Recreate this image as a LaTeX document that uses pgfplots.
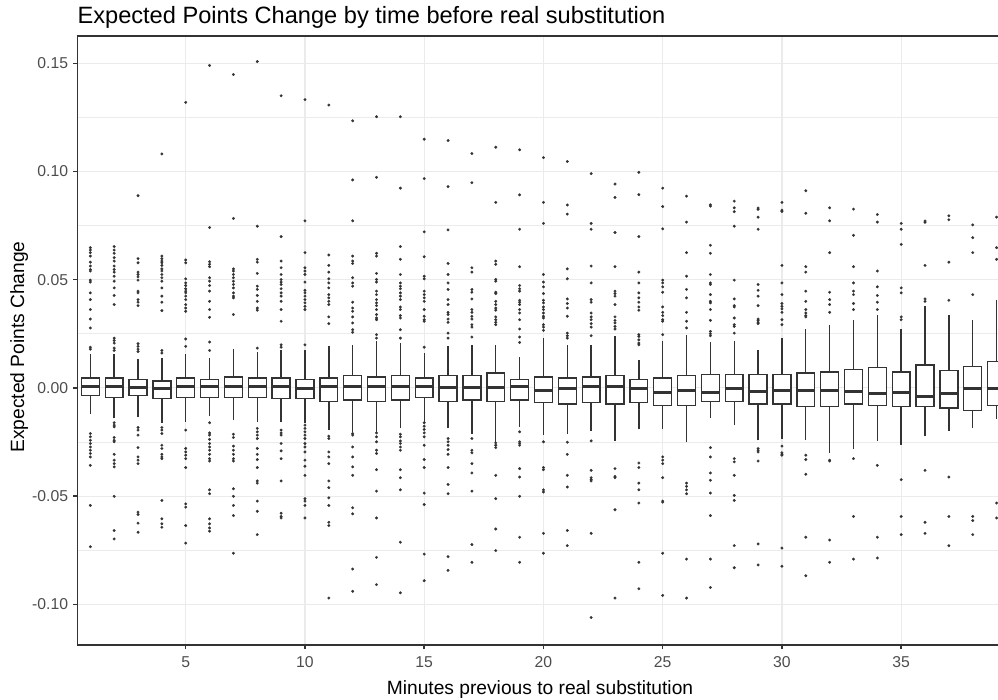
\documentclass[border=0pt]{standalone}
\usepackage{pgfplots}
\usepackage{pgfplotstable}
\pgfplotsset{compat=1.18}
\usepackage{fontspec}
\setmainfont{Liberation Sans}
\definecolor{g20}{HTML}{333333}
\definecolor{g30}{HTML}{4D4D4D}
\definecolor{g92}{HTML}{EBEBEB}
\pgfplotstableread{
x y
1 0.0648
1 0.0637
1 0.0625
1 0.0609
1 0.0581
1 0.0563
1 0.0547
1 0.0540
1 0.0498
1 0.0489
1 0.0439
1 0.0408
1 0.0362
1 0.0318
1 0.0277
1 0.0188
1 0.0179
1 -0.0211
1 -0.0226
1 -0.0242
1 -0.0257
1 -0.0273
1 -0.0288
1 -0.0303
1 -0.0319
1 -0.0358
1 -0.0543
1 -0.0734
2 0.0653
2 0.0637
2 0.0622
2 0.0602
2 0.0586
2 0.0563
2 0.0547
2 0.0535
2 0.0516
2 0.0493
2 0.0462
2 0.0427
2 0.0385
2 0.0230
2 0.0219
2 0.0207
2 0.0184
2 0.0173
2 -0.0161
2 -0.0172
2 -0.0180
2 -0.0229
2 -0.0242
2 -0.0249
2 -0.0307
2 -0.0334
2 -0.0350
2 -0.0365
2 -0.0501
2 -0.0659
2 -0.0698
3 0.0888
3 0.0597
3 0.0578
3 0.0535
3 0.0524
3 0.0513
3 0.0498
3 0.0447
3 0.0439
3 0.0408
3 0.0396
3 0.0380
3 0.0204
3 0.0192
3 0.0179
3 0.0168
3 -0.0183
3 -0.0195
3 -0.0218
3 -0.0276
3 -0.0319
3 -0.0334
3 -0.0350
3 -0.0574
3 -0.0585
3 -0.0625
3 -0.0667
4 0.1081
4 0.0609
4 0.0597
4 0.0586
4 0.0578
4 0.0566
4 0.0550
4 0.0540
4 0.0524
4 0.0509
4 0.0493
4 0.0462
4 0.0424
4 0.0396
4 0.0357
4 0.0173
4 0.0161
4 -0.0183
4 -0.0195
4 -0.0211
4 -0.0265
4 -0.0280
4 -0.0307
4 -0.0319
4 -0.0327
4 -0.0520
4 -0.0605
4 -0.0628
4 -0.0644
5 0.1319
5 0.0591
5 0.0578
5 0.0504
5 0.0485
5 0.0473
5 0.0458
5 0.0447
5 0.0439
5 0.0424
5 0.0408
5 0.0385
5 0.0369
5 0.0354
5 0.0226
5 0.0192
5 -0.0195
5 -0.0280
5 -0.0296
5 -0.0311
5 -0.0327
5 -0.0368
5 -0.0536
5 -0.0551
5 -0.0636
5 -0.0717
6 0.1490
6 0.0741
6 0.0583
6 0.0571
6 0.0560
6 0.0509
6 0.0493
6 0.0473
6 0.0447
6 0.0400
6 0.0362
6 0.0326
6 0.0212
6 0.0173
6 -0.0161
6 -0.0208
6 -0.0218
6 -0.0238
6 -0.0257
6 -0.0273
6 -0.0288
6 -0.0307
6 -0.0327
6 -0.0338
6 -0.0471
6 -0.0489
6 -0.0605
6 -0.0628
6 -0.0647
6 -0.0662
7 0.1448
7 0.0783
7 0.0550
7 0.0540
7 0.0524
7 0.0509
7 0.0493
7 0.0478
7 0.0462
7 0.0439
7 0.0424
7 0.0416
7 0.0339
7 -0.0214
7 -0.0229
7 -0.0269
7 -0.0288
7 -0.0307
7 -0.0327
7 -0.0338
7 -0.0466
7 -0.0501
7 -0.0543
7 -0.0590
7 -0.0764
8 0.1508
8 0.0747
8 0.0594
8 0.0581
8 0.0529
8 0.0470
8 0.0455
8 0.0427
8 0.0400
8 0.0369
8 0.0359
8 0.0184
8 -0.0187
8 -0.0203
8 -0.0218
8 -0.0234
8 -0.0280
8 -0.0307
8 -0.0331
8 -0.0368
8 -0.0430
8 -0.0440
8 -0.0523
8 -0.0570
8 -0.0678
9 0.1350
9 0.0699
9 0.0586
9 0.0555
9 0.0524
9 0.0501
9 0.0489
9 0.0478
9 0.0458
9 0.0439
9 0.0424
9 0.0400
9 0.0362
9 0.0308
9 0.0199
9 0.0188
9 -0.0195
9 -0.0208
9 -0.0218
9 -0.0257
9 -0.0291
9 -0.0327
9 -0.0430
9 -0.0579
9 -0.0594
9 -0.0601
10 0.1332
10 0.0772
10 0.0625
10 0.0555
10 0.0540
10 0.0524
10 0.0489
10 0.0451
10 0.0439
10 0.0424
10 0.0408
10 0.0393
10 0.0377
10 0.0362
10 0.0199
10 -0.0172
10 -0.0187
10 -0.0203
10 -0.0218
10 -0.0234
10 -0.0257
10 -0.0273
10 -0.0296
10 -0.0334
10 -0.0362
10 -0.0404
10 -0.0512
10 -0.0523
10 -0.0543
10 -0.0601
11 0.1307
11 0.0614
11 0.0566
11 0.0535
11 0.0504
11 0.0485
11 0.0462
11 0.0431
11 0.0416
11 0.0400
11 0.0385
11 0.0328
11 0.0297
11 -0.0223
11 -0.0234
11 -0.0296
11 -0.0319
11 -0.0350
11 -0.0430
11 -0.0461
11 -0.0508
11 -0.0543
11 -0.0621
11 -0.0636
11 -0.0971
12 0.1234
12 0.0961
12 0.0772
12 0.0609
12 0.0586
12 0.0575
12 0.0509
12 0.0485
12 0.0470
12 0.0396
12 0.0369
12 0.0354
12 0.0328
12 0.0300
12 0.0269
12 0.0257
12 -0.0211
12 -0.0218
12 -0.0273
12 -0.0319
12 -0.0365
12 -0.0404
12 -0.0554
12 -0.0582
12 -0.0837
12 -0.0940
13 0.1253
13 0.0973
13 0.0622
13 0.0609
13 0.0529
13 0.0501
13 0.0489
13 0.0447
13 0.0431
13 0.0408
13 0.0393
13 0.0380
13 0.0362
13 0.0339
13 0.0323
13 0.0315
13 0.0246
13 0.0230
13 -0.0208
13 -0.0226
13 -0.0249
13 -0.0288
13 -0.0303
13 -0.0378
13 -0.0477
13 -0.0601
13 -0.0783
13 -0.0909
14 0.1253
14 0.0923
14 0.0653
14 0.0594
14 0.0524
14 0.0485
14 0.0470
14 0.0458
14 0.0439
14 0.0424
14 0.0408
14 0.0374
14 0.0362
14 0.0334
14 0.0323
14 0.0269
14 0.0230
14 -0.0214
14 -0.0226
14 -0.0245
14 -0.0257
14 -0.0273
14 -0.0288
14 -0.0378
14 -0.0415
14 -0.0471
14 -0.0713
14 -0.0947
15 0.1149
15 0.0967
15 0.0721
15 0.0606
15 0.0516
15 0.0504
15 0.0447
15 0.0431
15 0.0416
15 0.0400
15 0.0362
15 0.0331
15 0.0315
15 0.0308
15 0.0188
15 -0.0161
15 -0.0177
15 -0.0192
15 -0.0208
15 -0.0226
15 -0.0265
15 -0.0331
15 -0.0368
15 -0.0486
15 -0.0539
15 -0.0768
15 -0.0891
16 0.1143
16 0.0930
16 0.0730
16 0.0575
16 0.0524
16 0.0485
16 0.0455
16 0.0408
16 0.0385
16 0.0349
16 0.0339
16 0.0318
16 0.0303
16 0.0253
16 0.0230
16 -0.0234
16 -0.0249
16 -0.0265
16 -0.0285
16 -0.0307
16 -0.0368
16 -0.0446
16 -0.0489
16 -0.0780
16 -0.0843
17 0.1083
17 0.0948
17 0.0555
17 0.0535
17 0.0455
17 0.0442
17 0.0411
17 0.0362
17 0.0349
17 0.0331
17 0.0318
17 0.0292
17 0.0281
17 0.0235
17 -0.0234
17 -0.0288
17 -0.0300
17 -0.0350
17 -0.0393
17 -0.0477
17 -0.0724
17 -0.0806
18 0.1112
18 0.0857
18 0.0586
18 0.0571
18 0.0501
18 0.0493
18 0.0442
18 0.0436
18 0.0400
18 0.0385
18 0.0369
18 0.0359
18 0.0328
18 0.0315
18 0.0303
18 0.0292
18 -0.0254
18 -0.0265
18 -0.0276
18 -0.0404
18 -0.0512
18 -0.0652
18 -0.0752
19 0.1100
19 0.0892
19 0.0733
19 0.0560
19 0.0473
19 0.0458
19 0.0447
19 0.0405
19 0.0396
19 0.0385
19 0.0362
19 0.0346
19 0.0315
19 0.0272
19 0.0235
19 0.0210
19 -0.0203
19 -0.0249
19 -0.0257
19 -0.0265
19 -0.0373
19 -0.0412
19 -0.0501
19 -0.0690
19 -0.0806
20 0.1064
20 0.0857
20 0.0760
20 0.0524
20 0.0489
20 0.0467
20 0.0436
20 0.0405
20 0.0393
20 0.0374
20 0.0362
20 0.0346
20 0.0331
20 0.0323
20 0.0292
20 0.0281
20 0.0266
20 -0.0249
20 -0.0368
20 -0.0378
20 -0.0471
20 -0.0481
20 -0.0672
20 -0.0764
21 0.1046
21 0.0845
21 0.0803
21 0.0550
21 0.0504
21 0.0411
21 0.0390
21 0.0369
21 0.0331
21 0.0253
21 0.0241
21 0.0230
21 -0.0251
21 -0.0307
21 -0.0404
21 -0.0458
21 -0.0659
21 -0.0729
22 0.0990
22 0.0760
22 0.0733
22 0.0563
22 0.0485
22 0.0408
22 0.0396
22 0.0346
22 0.0328
22 0.0315
22 0.0297
22 0.0281
22 0.0241
22 -0.0245
22 -0.0381
22 -0.0415
22 -0.0424
22 -0.0430
22 -0.0672
22 -0.1061
23 0.0942
23 0.0880
23 0.0718
23 0.0560
23 0.0447
23 0.0436
23 0.0424
23 0.0385
23 0.0328
23 0.0312
23 0.0300
23 0.0284
23 0.0272
23 -0.0373
23 -0.0409
23 -0.0415
23 -0.0563
23 -0.0971
24 0.0996
24 0.0893
24 0.0699
24 0.0535
24 0.0485
24 0.0439
24 0.0416
24 0.0396
24 0.0374
24 0.0359
24 0.0246
24 0.0238
24 0.0222
24 0.0207
24 0.0199
24 -0.0347
24 -0.0368
24 -0.0440
24 -0.0471
24 -0.0532
24 -0.0806
24 -0.0928
25 0.0923
25 0.0838
25 0.0735
25 0.0498
25 0.0485
25 0.0467
25 0.0442
25 0.0374
25 0.0349
25 0.0334
25 0.0315
25 0.0308
25 0.0246
25 -0.0319
25 -0.0334
25 -0.0350
25 -0.0415
25 -0.0523
25 -0.0528
25 -0.0764
25 -0.0959
26 0.0886
26 0.0766
26 0.0625
26 0.0516
26 0.0455
26 0.0416
26 0.0349
26 0.0308
26 0.0277
26 -0.0440
26 -0.0455
26 -0.0471
26 -0.0489
26 -0.0791
26 -0.0971
27 0.0846
27 0.0840
27 0.0659
27 0.0622
27 0.0524
27 0.0485
27 0.0478
27 0.0431
27 0.0400
27 0.0393
27 0.0362
27 0.0312
27 0.0261
27 0.0250
27 0.0241
27 -0.0276
27 -0.0319
27 -0.0393
27 -0.0427
27 -0.0486
27 -0.0590
27 -0.0791
27 -0.0922
28 0.0863
28 0.0832
28 0.0814
28 0.0747
28 0.0498
28 0.0411
28 0.0380
28 0.0374
28 0.0323
28 0.0292
28 0.0284
28 0.0253
28 -0.0327
28 -0.0342
28 -0.0404
28 -0.0497
28 -0.0520
28 -0.0729
28 -0.0831
29 0.0831
29 0.0825
29 0.0789
29 0.0733
29 0.0478
29 0.0451
29 0.0424
29 0.0380
29 0.0318
29 0.0312
29 0.0303
29 0.0297
29 -0.0280
29 -0.0288
29 -0.0296
29 -0.0338
29 -0.0721
29 -0.0818
30 0.0857
30 0.0821
30 0.0815
30 0.0566
30 0.0485
30 0.0431
30 0.0390
30 0.0377
30 0.0365
30 0.0349
30 0.0315
30 0.0292
30 -0.0269
30 -0.0300
30 -0.0307
30 -0.0311
30 -0.0740
30 -0.0824
31 0.0911
31 0.0807
31 0.0560
31 0.0535
31 0.0447
31 0.0400
31 0.0362
31 0.0346
31 0.0334
31 0.0328
31 -0.0311
31 -0.0331
31 -0.0399
31 -0.0690
31 -0.0868
32 0.0832
32 0.0772
32 0.0625
32 0.0442
32 0.0408
32 0.0385
32 0.0349
32 -0.0334
32 -0.0338
32 -0.0703
32 -0.0806
33 0.0826
33 0.0705
33 0.0560
33 0.0485
33 0.0447
33 0.0431
33 0.0390
33 0.0362
33 -0.0327
33 -0.0594
33 -0.0791
34 0.0801
34 0.0766
34 0.0540
34 0.0467
34 0.0427
34 0.0396
34 0.0362
34 -0.0358
34 -0.0690
34 -0.0786
35 0.0760
35 0.0733
35 0.0663
35 0.0462
35 0.0439
35 0.0328
35 0.0315
35 -0.0424
35 -0.0594
35 -0.0678
36 0.0771
36 0.0765
36 0.0566
36 0.0411
36 0.0400
36 -0.0381
36 -0.0621
36 -0.0672
37 0.0795
37 0.0777
37 0.0581
37 0.0405
37 -0.0412
37 -0.0594
37 -0.0729
38 0.0753
38 0.0694
38 0.0625
38 0.0431
38 -0.0594
38 -0.0613
38 -0.0678
39 0.0789
39 0.0648
39 0.0594
39 -0.0532
39 -0.0601
}\outliers
% box: left, right, centre, lower whisker, lower quartile, median, upper quartile, upper whisker
\newcommand{\bp}[8]{%
\addplot[g20, line width=1.05pt] coordinates {(#3,#4) (#3,#5)};
\addplot[g20, line width=1.05pt] coordinates {(#3,#7) (#3,#8)};
\addplot[g20, line width=1.05pt, fill=white] coordinates {(#1,#5) (#2,#5) (#2,#7) (#1,#7)} --cycle;
\addplot[g20, line width=2.3pt] coordinates {(#1,#6) (#2,#6)};
}
\begin{document}
\begin{tikzpicture}
\useasboundingbox (-58pt,-40.5pt) rectangle (690.5pt,483.75pt);
\begin{axis}[
  at={(0,0)}, anchor=south west,
  scale only axis, width=690.5pt, height=456.75pt,
  xmin=0.455, xmax=39.06, ymin=-0.1188, ymax=0.1626,
  axis x line*=bottom, axis y line*=left,
  axis line style={g20, line width=1.1pt},
  xtick={5,10,15,20,25,30,35},
  xticklabels={5,10,15,20,25,30,35},
  ytick={-0.10,-0.05,0,0.05,0.10,0.15},
  yticklabels={-0.10,-0.05,0.00,0.05,0.10,0.15},
  minor ytick={-0.075,-0.025,0.025,0.075,0.125},
  xmajorgrids, ymajorgrids, yminorgrids,
  major grid style={g92, line width=0.9pt},
  minor grid style={g92, line width=0.45pt},
  tick align=outside,
  major tick length=3pt, minor tick length=0pt,
  tick style={g20, line width=1.1pt},
  xticklabel style={font=\fontsize{11.8}{12}\selectfont, text=g30, anchor=north, inner sep=0pt, yshift=-5.6pt},
  yticklabel style={font=\fontsize{11.8}{12}\selectfont, text=g30, anchor=east, inner sep=0pt, xshift=-3.75pt},
  clip=true,
]
\addplot[only marks, mark=*, mark size=1.0pt, color=g20, mark options={line width=0.2pt}] table[x=x, y=y] {\outliers};
\bp{0.625}{1.375}{1}{-0.0121}{-0.0036}{0.0006}{0.0045}{0.0158}
\bp{1.625}{2.375}{2}{-0.0141}{-0.0044}{0.0006}{0.0045}{0.0158}
\bp{2.625}{3.375}{3}{-0.0136}{-0.0036}{0.0003}{0.0038}{0.0133}
\bp{3.625}{4.375}{4}{-0.0161}{-0.0050}{-0.0003}{0.0032}{0.0137}
\bp{4.625}{5.375}{5}{-0.0157}{-0.0044}{0.0006}{0.0045}{0.0158}
\bp{5.625}{6.375}{6}{-0.0130}{-0.0044}{0.0006}{0.0038}{0.0137}
\bp{6.625}{7.375}{7}{-0.0149}{-0.0044}{0.0006}{0.0051}{0.0181}
\bp{7.625}{8.375}{8}{-0.0157}{-0.0044}{0.0006}{0.0045}{0.0168}
\bp{8.625}{9.375}{9}{-0.0157}{-0.0050}{0.0006}{0.0045}{0.0176}
\bp{9.625}{10.375}{10}{-0.0161}{-0.0050}{-0.0003}{0.0038}{0.0176}
\bp{10.625}{11.375}{11}{-0.0195}{-0.0062}{0.0006}{0.0045}{0.0192}
\bp{11.625}{12.375}{12}{-0.0203}{-0.0056}{0.0006}{0.0057}{0.0199}
\bp{12.625}{13.375}{13}{-0.0208}{-0.0062}{0.0006}{0.0051}{0.0215}
\bp{13.625}{14.375}{14}{-0.0187}{-0.0056}{0.0006}{0.0057}{0.0207}
\bp{14.625}{15.375}{15}{-0.0164}{-0.0044}{0.0006}{0.0045}{0.0161}
\bp{15.625}{16.375}{16}{-0.0187}{-0.0062}{0.0000}{0.0057}{0.0192}
\bp{16.625}{17.375}{17}{-0.0211}{-0.0056}{0.0000}{0.0057}{0.0199}
\bp{17.625}{18.375}{18}{-0.0249}{-0.0062}{0.0000}{0.0068}{0.0199}
\bp{18.625}{19.375}{19}{-0.0180}{-0.0056}{0.0006}{0.0038}{0.0145}
\bp{19.625}{20.375}{20}{-0.0218}{-0.0068}{-0.0010}{0.0051}{0.0230}
\bp{20.625}{21.375}{21}{-0.0211}{-0.0075}{-0.0003}{0.0045}{0.0199}
\bp{21.625}{22.375}{22}{-0.0198}{-0.0068}{0.0006}{0.0051}{0.0199}
\bp{22.625}{23.375}{23}{-0.0245}{-0.0075}{0.0006}{0.0057}{0.0238}
\bp{23.625}{24.375}{24}{-0.0192}{-0.0068}{-0.0003}{0.0038}{0.0130}
\bp{24.625}{25.375}{25}{-0.0192}{-0.0081}{-0.0022}{0.0045}{0.0215}
\bp{25.625}{26.375}{26}{-0.0252}{-0.0081}{-0.0010}{0.0057}{0.0246}
\bp{26.625}{27.375}{27}{-0.0141}{-0.0062}{-0.0022}{0.0062}{0.0210}
\bp{27.625}{28.375}{28}{-0.0172}{-0.0062}{-0.0003}{0.0062}{0.0215}
\bp{28.625}{29.375}{29}{-0.0242}{-0.0075}{-0.0016}{0.0062}{0.0173}
\bp{29.625}{30.375}{30}{-0.0234}{-0.0075}{-0.0010}{0.0062}{0.0229}
\bp{30.625}{31.375}{31}{-0.0242}{-0.0087}{-0.0010}{0.0068}{0.0272}
\bp{31.625}{32.375}{32}{-0.0300}{-0.0087}{-0.0010}{0.0074}{0.0289}
\bp{32.625}{33.375}{33}{-0.0283}{-0.0075}{-0.0016}{0.0086}{0.0314}
\bp{33.625}{34.375}{34}{-0.0246}{-0.0081}{-0.0028}{0.0093}{0.0337}
\bp{34.625}{35.375}{35}{-0.0265}{-0.0087}{-0.0022}{0.0074}{0.0272}
\bp{35.625}{36.375}{36}{-0.0223}{-0.0087}{-0.0039}{0.0105}{0.0380}
\bp{36.625}{37.375}{37}{-0.0198}{-0.0093}{-0.0028}{0.0080}{0.0337}
\bp{37.625}{38.375}{38}{-0.0184}{-0.0104}{-0.0003}{0.0099}{0.0315}
\bp{38.625}{39.375}{39}{-0.0143}{-0.0081}{-0.0003}{0.0122}{0.0405}
\end{axis}
\draw[g20, line width=1.1pt] (-0.55pt,456.75pt) -- (690.5pt,456.75pt);
\node[anchor=base west, inner sep=0pt, font=\fontsize{17.7}{20}\selectfont] at (0,466.3pt) {Expected Points Change by time before real substitution};
\node[anchor=base, inner sep=0pt, font=\fontsize{14.4}{16}\selectfont] at (347pt,-37.1pt) {Minutes previous to real substitution};
\node[rotate=90, anchor=base, inner sep=0pt, font=\fontsize{14.4}{16}\selectfont] at (-40pt,223.5pt) {Expected Points Change};
\end{tikzpicture}
\end{document}
